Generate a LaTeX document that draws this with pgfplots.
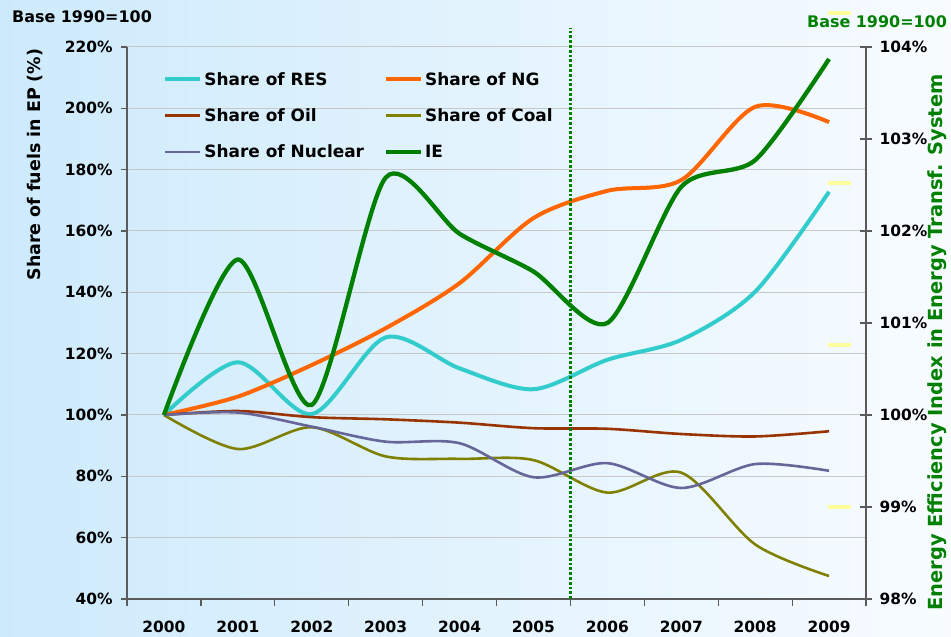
\documentclass[border=0pt]{standalone}
\usepackage{fontspec}
\setmainfont{DejaVu Sans}
\usepackage{pgfplots}
\pgfplotsset{compat=1.18}
\usetikzlibrary{backgrounds}
\definecolor{resC}{HTML}{33CCCC}
\definecolor{ngC}{HTML}{FF6600}
\definecolor{oilC}{HTML}{993300}
\definecolor{coalC}{HTML}{808000}
\definecolor{nucC}{HTML}{666699}
\definecolor{ieC}{HTML}{008000}
\definecolor{bgL}{RGB}{205,234,252}
\definecolor{bgR}{RGB}{248,252,255}
\definecolor{axC}{RGB}{90,90,90}
\definecolor{grdC}{RGB}{200,200,200}
\definecolor{yelC}{HTML}{FFFF99}
\begin{document}
\begin{tikzpicture}
\begin{axis}[name=ax,
  scale only axis, width=739bp, height=552bp,
  xmin=-0.5, xmax=9.5, ymin=40, ymax=220,
  axis x line*=bottom, axis y line*=left,
  axis line style={draw=axC, line width=1.2bp},
  every tick/.style={draw=axC, line width=1.2bp},
  tick align=outside,
  xtick={0,...,9}, xticklabels={2000,2001,2002,2003,2004,2005,2006,2007,2008,2009},
  major x tick style={draw=none},
  minor xtick={-0.5,0.5,...,9.5},
  minor tick length=7bp, major tick length=6bp,
  ytick={40,60,...,220},
  yticklabel={\pgfmathprintnumber{\tick}\%},
  /pgf/number format/assume math mode=true,
  ticklabel style={font=\bfseries\fontsize{15.5}{15.5}\selectfont},
  xticklabel style={yshift=-13bp},
  yticklabel style={xshift=-5bp},
  ymajorgrids, major grid style={draw=grdC, line width=1bp},
  ylabel={Share of fuels in EP (\%)},
  every axis y label/.style={at={(axis description cs:-0.1245,0.787)}, anchor=center, rotate=90, font=\bfseries\fontsize{17.5}{17.5}\selectfont},
  legend style={at={(axis description cs:0.045,0.962)}, anchor=north west, draw=none, fill=none,
    font=\bfseries\fontsize{17}{17}\selectfont, legend columns=2,
    /tikz/every even column/.append style={column sep=18bp},
    row sep=18bp},
  legend cell align=left,
  legend image code/.code={\draw[#1] (0bp,0bp) -- (35bp,0bp);},
  clip=false,
]
\addplot[resC, line width=4bp, smooth, tension=0.5] coordinates {(0,100)(1,117.2)(2,100.3)(3,125.3)(4,115.2)(5,108.4)(6,118)(7,124.5)(8,140.2)(9,172.8)};
\addlegendentry{Share of RES}
\addplot[ngC, line width=4bp, smooth, tension=0.5] coordinates {(0,100)(1,106)(2,116.3)(3,128.3)(4,143)(5,164.2)(6,173.1)(7,176.6)(8,200.5)(9,195.5)};
\addlegendentry{Share of NG}
\addplot[oilC, line width=2.6bp, smooth, tension=0.5] coordinates {(0,100)(1,101.3)(2,99.3)(3,98.6)(4,97.5)(5,95.7)(6,95.5)(7,93.8)(8,93.0)(9,94.7)};
\addlegendentry{Share of Oil}
\addplot[coalC, line width=2.6bp, smooth, tension=0.5] coordinates {(0,100)(1,88.9)(2,96.0)(3,86.5)(4,85.7)(5,85.3)(6,74.7)(7,81.2)(8,57.8)(9,47.5)};
\addlegendentry{Share of Coal}
\addplot[nucC, line width=2.6bp, smooth, tension=0.5] coordinates {(0,100)(1,100.8)(2,96.2)(3,91.3)(4,90.8)(5,79.7)(6,84.3)(7,76.2)(8,84.0)(9,81.8)};
\addlegendentry{Share of Nuclear}
\addlegendimage{ieC, line width=4bp}
\addlegendentry{IE}
\node[font=\bfseries\fontsize{16}{16}\selectfont, anchor=center] at (axis description cs:-0.0609,1.0543) {Base 1990=100};
\end{axis}
\begin{axis}[
  scale only axis, width=739bp, height=552bp,
  xmin=-0.5, xmax=9.5, ymin=98, ymax=104,
  axis y line*=right, axis x line=none,
  axis line style={draw=axC, line width=1.2bp},
  every tick/.style={draw=axC, line width=1.2bp},
  tick align=center, major tick length=12bp,
  ytick={98,...,104},
  yticklabel={\pgfmathprintnumber{\tick}\%},
  /pgf/number format/assume math mode=true,
  ticklabel style={font=\bfseries\fontsize{15.5}{15.5}\selectfont},
  yticklabel style={xshift=4bp},
  ylabel={Energy Efficiency Index in Energy Transf. System},
  every axis y label/.style={at={(axis description cs:1.0961,0.4647)}, anchor=center, rotate=90, font=\bfseries\fontsize{19.5}{19.5}\selectfont, text=ieC},
  clip=false,
]
\addplot[ieC, line width=4.3bp, smooth, tension=0.45] coordinates {(0,100)(1,101.69)(2,100.11)(3,102.58)(4,101.97)(5,101.56)(6,101.0)(7,102.48)(8,102.77)(9,103.87)};
\addplot[ieC, line width=2.8bp, dotted] coordinates {(5.5,98)(5.5,104.21)};
\addplot[yelC, line width=4bp] coordinates {(8.99,104.37)(9.3,104.37)};
\addplot[yelC, line width=4bp] coordinates {(8.99,102.52)(9.3,102.52)};
\addplot[yelC, line width=4bp] coordinates {(8.99,100.76)(9.3,100.76)};
\addplot[yelC, line width=4bp] coordinates {(8.99,99.0)(9.3,99.0)};
\node[font=\bfseries\fontsize{16}{16}\selectfont, text=ieC, anchor=center] at (axis description cs:1.0149,1.0453) {Base 1990=100};
\end{axis}
\begin{scope}[on background layer]
\shade[left color=bgL, right color=bgR] ([xshift=-127bp,yshift=-38bp]ax.south west) rectangle ([xshift=85bp,yshift=47bp]ax.north east);
\end{scope}
\pgfresetboundingbox
\useasboundingbox ([xshift=-127bp,yshift=-38bp]ax.south west) rectangle ([xshift=85bp,yshift=47bp]ax.north east);
\end{tikzpicture}
\end{document}
